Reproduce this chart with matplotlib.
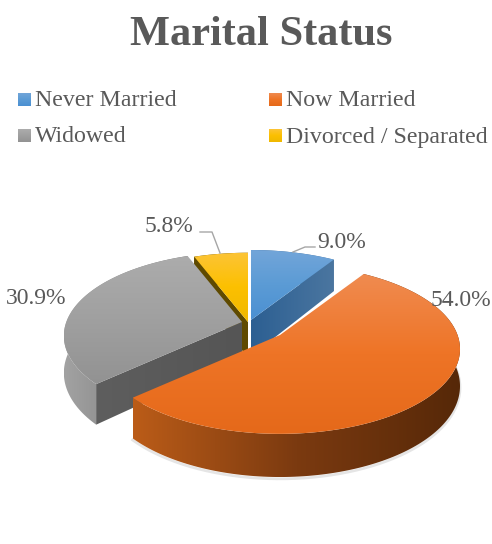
import numpy as np
import matplotlib
matplotlib.use('Agg')
import matplotlib.pyplot as plt
from matplotlib.colors import LinearSegmentedColormap
from matplotlib.patches import Polygon

plt.rcParams['font.family'] = ['Liberation Serif', 'DejaVu Serif']

# data
categories = ['Never Married', 'Now Married', 'Widowed', 'Divorced / Separated']
values = [9.0, 54.0, 30.9, 5.8]
labels = ['9.0%', '54.0%', '30.9%', '5.8%']

# slice look, same order as categories
apex = [(251, 320), (280, 335), (242, 322), (248, 322)]
scale = [0.96, 0.97, 0.96, 0.95]
top_colors = [('#72a5d9', '#5b9bd5', '#4b90d2'), ('#f08b50', '#ee7426', '#e5691a'),
              ('#acacac', '#a0a0a0', '#929292'), ('#fcc437', '#fcc000', '#efb800')]
side_colors = [('#2c5f92', '#4b76a0'), ('#bb5c18', '#7b3a10', '#562808'),
               ('#a2a2a2', '#707070'), ('#5f4a00', '#5f4a00')]
cut_colors = [('#2c5f92', '#4b76a0'), ('#bb5c18', '#7b3a10'),
              ('#5e5e5e', '#555555'), ('#5f4a00', '#5f4a00')]

# perspective of the pie, in pixels
A, B, K, DEPTH = 183.0, 85.0, 0.166, 36.0
TEXT = '#595959'


def project(theta, i, drop=0.0):
    # theta in degrees, clockwise from the top of the pie
    t = np.radians(theta)
    u, v = np.sin(t), np.cos(t)
    w = 1 + K * v
    x = apex[i][0] + scale[i] * A * u / w
    y = apex[i][1] - scale[i] * B * v / w + drop / w
    return x, y


def fill_grad(ax, pts, colors, vertical=True, zorder=2):
    pts = np.asarray(pts)
    cmap = LinearSegmentedColormap.from_list('g', colors)
    ramp = np.linspace(0, 1, 256)
    ramp = ramp.reshape(-1, 1) if vertical else ramp.reshape(1, -1)
    x0, x1 = pts[:, 0].min(), pts[:, 0].max()
    y0, y1 = pts[:, 1].min(), pts[:, 1].max()
    im = ax.imshow(ramp, cmap=cmap, extent=(x0, x1, y1, y0), aspect='auto',
                   interpolation='bilinear', zorder=zorder)
    patch = Polygon(pts, closed=True, transform=ax.transData, fc='none', ec='none')
    ax.add_patch(patch)
    im.set_clip_path(patch)


def draw_slice(ax, i, a0, a1, cut_at=(), z=2):
    base = apex[i]
    th = np.linspace(a0, a1, 160)
    tx, ty = project(th, i)
    bx, by = project(th, i, DEPTH)
    if i == 1:
        # soft shadow under the big slice
        sx, sy = project(th, i, DEPTH + 1.5)
        ax.plot(sx, sy, color='#999999', lw=2, alpha=0.25, zorder=z - 0.5)
    side = np.r_[np.c_[tx, ty], np.c_[bx, by][::-1]]
    fill_grad(ax, side, side_colors[i], vertical=False, zorder=z)
    for a in cut_at:
        ex, ey = project(a, i)
        fx, fy = project(a, i, DEPTH)
        face = [base, (ex, ey), (fx, fy), (base[0], base[1] + DEPTH)]
        fill_grad(ax, face, cut_colors[i], vertical=False, zorder=z + 0.1)
    top = np.r_[[base], np.c_[tx, ty]]
    fill_grad(ax, top, top_colors[i], vertical=True, zorder=z + 0.2)


fig = plt.figure(figsize=(4.92, 5.44), dpi=100)
ax = fig.add_axes([0, 0, 1, 1])

angles = np.cumsum([0] + [v / sum(values) * 360 for v in values])

# painter's order: yellow, blue, gray, orange
draw_slice(ax, 3, angles[3], angles[4], cut_at=[angles[3]], z=2)
draw_slice(ax, 0, angles[0], angles[1], cut_at=[angles[1]], z=3)
draw_slice(ax, 2, angles[2], angles[3], cut_at=[angles[2]], z=4)
draw_slice(ax, 1, angles[1], angles[2], z=5)

ax.text(261, 35, 'Marital Status', fontsize=30.5, fontweight='bold', color=TEXT,
        ha='center', va='center')

# legend
swatch_x = [18, 269]
swatch_y = [93, 129]
for i, name in enumerate(categories):
    x = swatch_x[i % 2]
    y = swatch_y[i // 2]
    fill_grad(ax, [(x, y), (x + 13, y), (x + 13, y + 13), (x, y + 13)], top_colors[i])
    ax.text(x + 17, y + 8, name, fontsize=17.2, color=TEXT, ha='left', va='center')
ax.set_xlim(0, 492)
ax.set_ylim(544, 0)
ax.axis('off')

# data labels
label_pos = [(342, 242), (461, 300), (36, 299), (169, 227)]
for s, (x, y) in zip(labels, label_pos):
    ax.text(x, y, s, fontsize=17, color=TEXT, ha='center', va='center', zorder=8)

# leader lines
ax.plot([293, 305, 315], [252, 247, 247], color='#a6a6a6', lw=1, zorder=7)
ax.plot([220, 212, 200], [253, 232, 232], color='#a6a6a6', lw=1, zorder=7)

fig.savefig('out.png', dpi=100)
